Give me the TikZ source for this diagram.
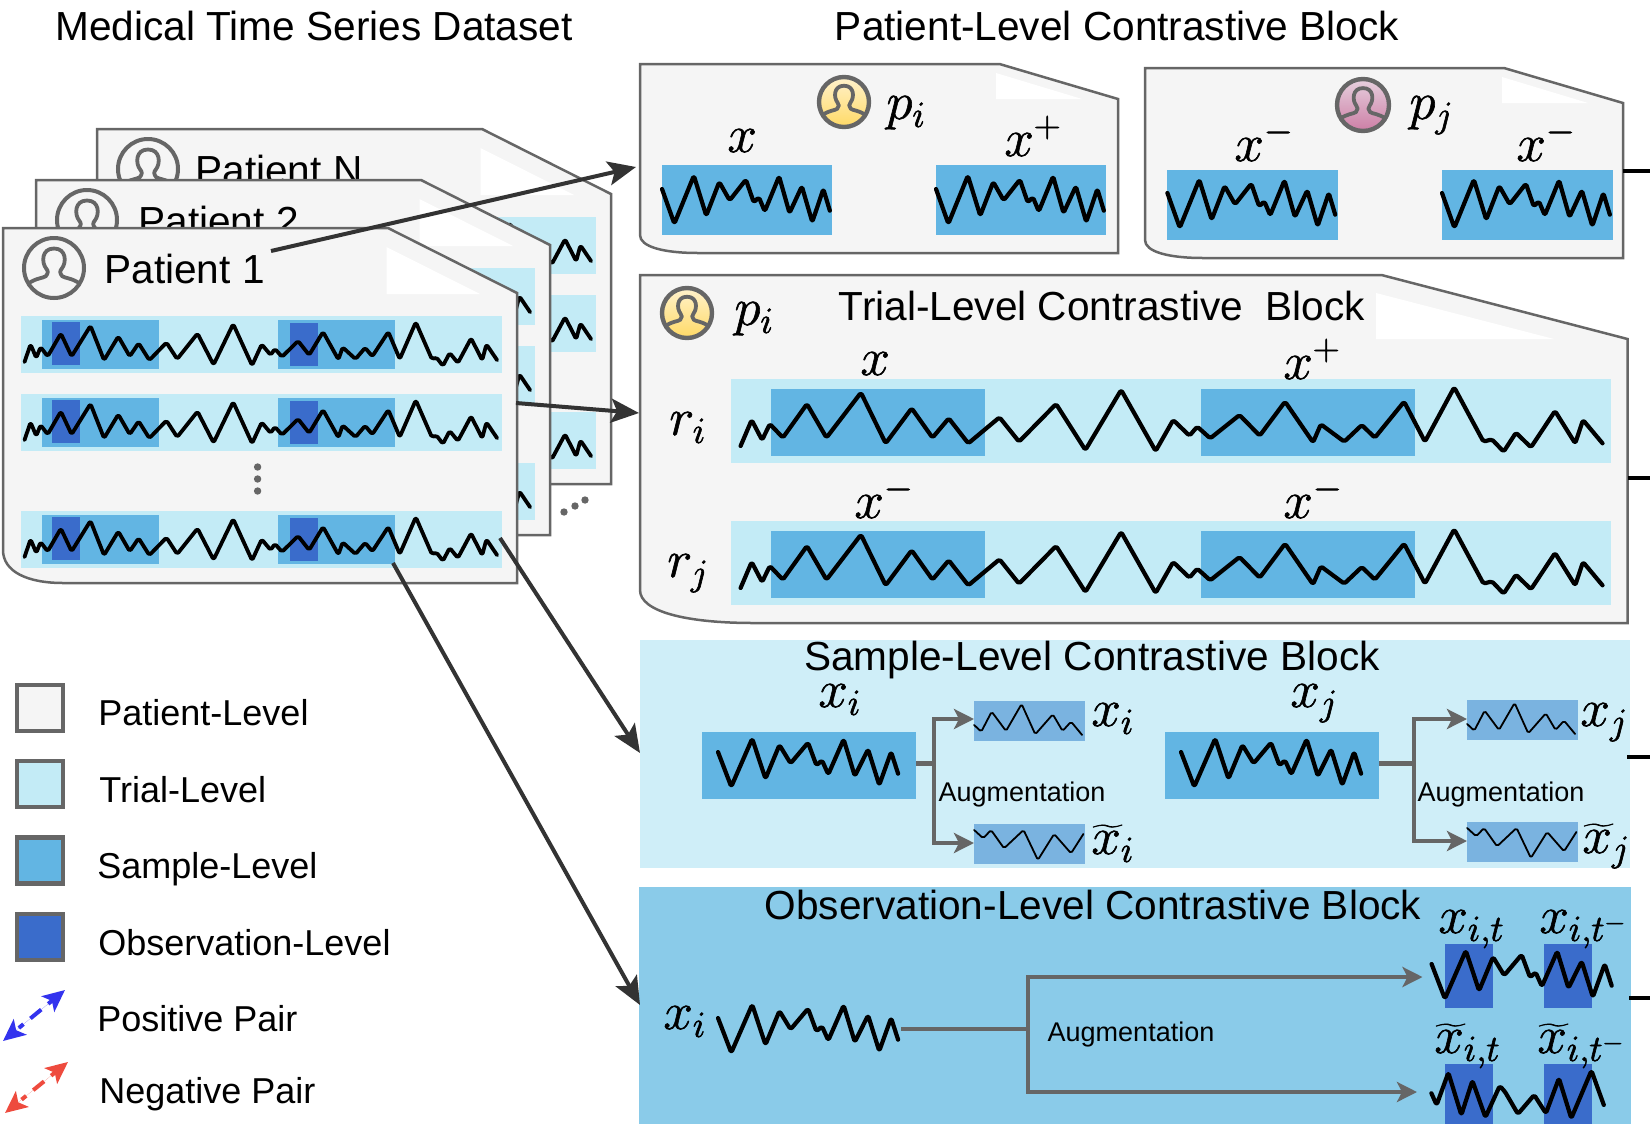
\RequirePackage{fix-cm}
\documentclass[tikz,border=0pt]{standalone}
\usepackage{fontspec}
\setmainfont{Liberation Sans}
\usetikzlibrary{arrows.meta}
\definecolor{cardfill}{HTML}{F5F5F5}
\definecolor{cardline}{HTML}{666666}
\definecolor{trialc}{HTML}{C3EBF6}
\definecolor{samplec}{HTML}{62B5E3}
\definecolor{obsc}{HTML}{3A6CCB}
\definecolor{sampleblock}{HTML}{CFEEF8}
\definecolor{obsblock}{HTML}{8ACBE9}
\definecolor{smallc}{HTML}{7AB3E0}
\definecolor{darkarrow}{HTML}{333333}
\definecolor{posc}{HTML}{3333EE}
\definecolor{negc}{HTML}{EE4B3E}
\definecolor{yellowtop}{HTML}{FFF2CC}
\definecolor{yellowbot}{HTML}{FFD966}
\definecolor{pinktop}{HTML}{E6D0DE}
\definecolor{pinkbot}{HTML}{CD7EA5}
\newcommand\longpts{(170,528) -- (187,450) -- (203,510) -- (215,462) -- (235,503) -- (272,402) -- (302,503) -- (355,368) -- (393,520) -- (433,415) -- (465,503) -- (490,445) -- (520,520) -- (568,442) -- (598,515) -- (655,402) -- (700,540) -- (755,360) -- (808,543) -- (835,450) -- (860,497) -- (872,470) -- (892,505) -- (937,435) -- (968,497) -- (1007,395) -- (1050,517) -- (1062,463) -- (1098,515) -- (1125,465) -- (1145,503) -- (1190,395) -- (1222,515) -- (1267,352) -- (1312,515) -- (1325,508) -- (1343,545) -- (1362,488) -- (1385,532) -- (1422,423) -- (1453,520) -- (1465,450) -- (1495,520)}
\newcommand\shortpts{(49,418) -- (68,522) -- (98,378) -- (117,498) -- (137,397) -- (153,452) -- (178,390) -- (190,458) -- (198,443) -- (207,485) -- (229,380) -- (245,490) -- (264,410) -- (280,517) -- (297,418) -- (307,483)}
\newcommand\smallup{(529,285) -- (540,305) -- (556,245) -- (578,303) -- (602,222) -- (623,313) -- (650,253) -- (665,303) -- (678,275) -- (695,315)}
\newcommand\smalllow{(529,600) -- (543,625) -- (555,600) -- (575,655) -- (605,600) -- (627,690) -- (652,612) -- (678,670) -- (697,612)}
\newcommand\obslow{(1232,1390) -- (1240,1425) -- (1258,1328) -- (1278,1455) -- (1295,1352) -- (1315,1462) -- (1337,1368) -- (1345,1385) -- (1365,1452) -- (1390,1395) -- (1408,1450) -- (1428,1345) -- (1447,1465) -- (1478,1322) -- (1497,1425)}
% path, start x, start y, place x, place y, xscale, yscale, line width
\newcommand\wavedraw[8]{\begin{scope}[shift={(#4,#5)},xscale=#6,yscale=#7,shift={(-#2,-#3)}]\draw[wave,line width=#8] #1;\end{scope}}
\newcommand\rowwave[2]{\wavedraw{\longpts}{170}{528}{#1}{#2}{.3567}{.226}{1.9pt}}
\newcommand\trialwave[2]{\wavedraw{\longpts}{170}{528}{#1}{#2}{.6505}{.3333}{2.1pt}}
\newcommand\shortwave[2]{\wavedraw{\shortpts}{49}{418}{#1}{#2}{.6505}{.3333}{2.1pt}}
\newcommand\bigwave[2]{\wavedraw{\shortpts}{49}{418}{#1}{#2}{.698}{.3333}{2.1pt}}
% left top foldx right foldy bottom curvex curvey
\newcommand\docshape[8]{\draw[doc] (#1,#2) -- (#3,#2) -- (#4,#5) -- (#4,#6) -- (#7,#6) .. controls ({#7-0.6*(#7-#1)},#6) and (#1,{#6-0.35*(#6-#8)}) .. (#1,#8) -- cycle;}
% centre x, y, radius, style
\newcommand\usericon[4]{\begin{scope}[shift={(#1,#2)},scale=#3]
\draw[#4] (0,0) circle (1);
\draw[iconline] (-.86,.52) .. controls (-.6,.33) and (-.35,.34) .. (-.27,.27) .. controls (-.2,.18) and (-.18,.1) .. (-.26,.02) .. controls (-.42,-.18) and (-.42,-.65) .. (0,-.65) .. controls (.42,-.65) and (.42,-.18) .. (.26,.02) .. controls (.18,.1) and (.2,.18) .. (.27,.27) .. controls (.35,.34) and (.6,.33) .. (.86,.52);
\end{scope}}
\newcommand\rowblock[1]{\begin{scope}[shift={(0,#1)}]
\fill[trialc] (21,316) rectangle (502,373);
\fill[samplec] (42,320) rectangle (159,369);
\fill[samplec] (278,320) rectangle (395,369);
\fill[obsc] (52,322) rectangle (80,365);
\fill[obsc] (290,323) rectangle (318,366);
\rowwave{24.5}{362}
\end{scope}}
% shift x, shift y, label, name, label x
\newcommand\patientcard[5]{\begin{scope}[shift={(#1,#2)}]
\docshape{3}{228}{388}{517}{293}{583}{63}{550}
\fill[white] (386.5,247) -- (386.5,294) -- (480,294) -- cycle;
\usericon{54}{268}{30}{icongray}
\node[cardtext,anchor=base west] (#4) at (#5,283) {#3};
\rowblock{0}\rowblock{78}\rowblock{195}
\end{scope}}
\newcommand\xsup[1]{x^{#1}}
\newcommand\mth[1]{\fontsize{26.5}{30}\selectfont\special{pdf:code 2 Tr 0.3 w}$#1$\special{pdf:code 0 Tr}}
\tikzset{
  x=0.5pt,y=-0.5pt,
  wave/.style={black,line join=round,line cap=round,rounded corners=0.9pt},
  doc/.style={fill=cardfill,draw=cardline,line width=1.25pt,line join=miter},
  iconline/.style={draw=cardline,line width=1.9pt,line join=round},
  icongray/.style={draw=cardline,line width=2pt},
  cardtext/.style={font=\fontsize{20.3}{24}\selectfont,inner sep=0pt},
  titletext/.style={font=\fontsize{20.3}{24}\selectfont,inner sep=0pt},
  legtext/.style={font=\fontsize{18}{22}\selectfont,inner sep=0pt,anchor=west},
  augtext/.style={font=\fontsize{13.5}{16}\selectfont,inner sep=0pt},
  mathl/.style={inner sep=0pt,anchor=base west},
  legbox/.style={draw=cardline,line width=2.4pt,minimum size=23pt,inner sep=0pt},
  branch/.style={draw=cardline,line width=2.2pt,-{Stealth[length=10pt,width=10pt,inset=2.5pt]}},
  branchplain/.style={draw=cardline,line width=2.2pt},
  bigarrow/.style={draw=darkarrow,line width=2pt,-{Stealth[length=14pt,width=12pt,inset=3pt]}},
  stub/.style={black,line width=2pt},
  pairarrow/.style={line width=2pt,{Stealth[length=11pt,width=10pt,inset=2.5pt]}-{Stealth[length=11pt,width=10pt,inset=2.5pt]},dash pattern=on 3pt off 4.5pt on 7pt off 4.5pt on 3pt off 99pt},
  yellowfill/.style={draw=cardline,line width=2.2pt,top color=yellowtop,bottom color=yellowbot},
  pinkfill/.style={draw=cardline,line width=2.2pt,top color=pinktop,bottom color=pinkbot},
}
\begin{document}
\begin{tikzpicture}
\useasboundingbox (0,0) rectangle (1650,1130);
% titles
\node[titletext] (tData) at (314,26) {Medical Time Series Dataset};
\node[titletext] (tPat) at (1117,26) {Patient-Level Contrastive Block};
% stacked cards
\patientcard{94}{-99}{Patient N}{cardN}{101}
\patientcard{33}{-48}{Patient 2}{card2}{105}
\patientcard{0}{0}{Patient 1}{card1}{104}
\fill[cardline] (257.6,467) circle (3.7) (257.6,479) circle (3.7) (257.6,491) circle (3.7);
\fill[cardline] (564,512) circle (3.7) (575,506) circle (3.7) (585,500) circle (3.7);
% patient-level block
\docshape{640}{64}{999.5}{1118}{99}{253}{698}{235}
\fill[white] (996,73) -- (996,99) -- (1082,99) -- cycle;
\docshape{1145}{68}{1504}{1623}{103}{258}{1203}{240}
\fill[white] (1502,77) -- (1502,103) -- (1588,103) -- cycle;
\fill[samplec] (662,165) rectangle (832,235);
\fill[samplec] (936,165) rectangle (1106,235);
\fill[samplec] (1167.4,170) rectangle (1338,240);
\fill[samplec] (1442,170) rectangle (1612.5,240);
\shortwave{662}{189}
\shortwave{936}{189}
\shortwave{1167.4}{193}
\shortwave{1442}{193}
\usericon{844}{102}{25}{yellowfill}
\usericon{1363}{105}{26}{pinkfill}
\node[mathl] (lpi) at (886,119) {\mth{p_i}};
\node[mathl] (lpj) at (1409,119) {\mth{p_j}};
\node[mathl] (lx) at (727,152) {\mth{x}};
\node[mathl] (lxp) at (1004,156) {\mth{\xsup{+}}};
\node[mathl] (lxm1) at (1234,161) {\mth{\xsup{-}}};
\node[mathl] (lxm2) at (1516,161) {\mth{\xsup{-}}};
% trial-level block
\docshape{640}{275}{1381.5}{1627.5}{339}{623}{753.6}{590}
\fill[white] (1376,293) -- (1376,339) -- (1554,339) -- cycle;
\fill[trialc] (731,379) rectangle (1611,463);
\fill[trialc] (731,521) rectangle (1611,605);
\fill[samplec] (771,389) rectangle (985,456);
\fill[samplec] (1201,389) rectangle (1415,456);
\fill[samplec] (771,531) rectangle (985,598);
\fill[samplec] (1201,531) rectangle (1415,598);
\trialwave{740.6}{446}
\trialwave{740.6}{588}
\usericon{687}{313}{25}{yellowfill}
\node[mathl] (tpi) at (734,325) {\mth{p_i}};
\node[titletext] (tTrial) at (1102,306) {Trial-Level Contrastive\ \ Block};
\node[mathl] (tx) at (860,375) {\mth{x}};
\node[mathl] (txp) at (1283,379) {\mth{\xsup{+}}};
\node[mathl] (txm1) at (854,518) {\mth{\xsup{-}}};
\node[mathl] (txm2) at (1283,518) {\mth{\xsup{-}}};
\node[mathl] (tri) at (669,435) {\mth{r_i}};
\node[mathl] (trj) at (667,577) {\mth{r_j}};
% sample-level block
\fill[sampleblock] (640,640) rectangle (1630,868);
\node[titletext] (tSample) at (1092,660) {Sample-Level Contrastive Block};
\fill[samplec] (702,732) rectangle (916,799);
\fill[samplec] (1165,732) rectangle (1379,799);
\bigwave{718}{752}
\bigwave{1181}{752}
\fill[smallc] (974,701) rectangle (1085,741);
\fill[smallc] (974,824) rectangle (1085,864);
\fill[smallc] (1467,700) rectangle (1578,740);
\fill[smallc] (1467,822) rectangle (1578,862);
\wavedraw{\smallup}{0}{0}{630}{630}{.6505}{.3333}{.9pt}
\wavedraw{\smalllow}{0}{0}{630}{630}{.6505}{.3333}{.9pt}
\wavedraw{\smallup}{0}{0}{1123}{629}{.6505}{.3333}{.9pt}
\wavedraw{\smalllow}{0}{0}{1123}{628}{.6505}{.3333}{.9pt}
\coordinate (sa) at (916,763.5);
\coordinate (sb) at (934,763.5);
\coordinate (sc) at (934,719);
\coordinate (sd) at (974,719);
\coordinate (se) at (934,843);
\coordinate (sf) at (974,843);
\draw[branchplain] (sa) -- (sb);
\draw[branch] (sb) -- (sc) -- (sd);
\draw[branch] (sb) -- (se) -- (sf);
\coordinate (ra) at (1379,763.5);
\coordinate (rb) at (1414,763.5);
\coordinate (rc) at (1414,719);
\coordinate (rd) at (1467,719);
\coordinate (re) at (1414,841);
\coordinate (rf) at (1467,841);
\draw[branchplain] (ra) -- (rb);
\draw[branch] (rb) -- (rc) -- (rd);
\draw[branch] (rb) -- (re) -- (rf);
\node[augtext] (aug1) at (1022,795) {Augmentation};
\node[augtext] (aug2) at (1501,795) {Augmentation};
\node[mathl] (sxi) at (818,707) {\mth{x_i}};
\node[mathl] (sxj) at (1290,707) {\mth{x_j}};
\node[mathl] (sxi2) at (1091,726) {\mth{x_i}};
\node[mathl] (sxt) at (1091,854) {\mth{\widetilde{x}_i}};
\node[mathl] (sxj2) at (1580,726) {\mth{x_j}};
\node[mathl] (sxtj) at (1582,853) {\mth{\widetilde{x}_j}};
% observation-level block
\fill[obsblock] (639,887) rectangle (1631,1124);
\node[titletext] (tObs) at (1093,905) {Observation-Level Contrastive Block};
\fill[obsc] (1445,944) rectangle (1493,1008);
\fill[obsc] (1544,944) rectangle (1592,1008);
\fill[obsc] (1445,1064) rectangle (1493,1124);
\fill[obsc] (1544,1064) rectangle (1592,1124);
\bigwave{718}{1018}
\bigwave{1431.6}{964}
\wavedraw{\obslow}{0}{0}{630}{630}{.6505}{.3333}{2.1pt}
\coordinate (oa) at (901,1029);
\coordinate (ob) at (1028,1029);
\coordinate (oc) at (1028,977);
\coordinate (od) at (1422.5,977);
\coordinate (oe) at (1028,1092);
\coordinate (of) at (1417,1092);
\draw[branchplain] (oa) -- (ob);
\draw[branch] (ob) -- (oc) -- (od);
\draw[branch] (ob) -- (oe) -- (of);
\node[augtext] (aug3) at (1131,1035) {Augmentation};
\node[mathl] (oxi) at (663,1029) {\mth{x_i}};
\node[mathl] (oxit) at (1438,933) {\mth{x_{i,t}}};
\node[mathl] (oxitm) at (1539,933) {\mth{x_{i,t^-}}};
\node[mathl] (otxit) at (1434,1053) {\mth{\widetilde{x}_{i,t}}};
\node[mathl] (otxitm) at (1537,1053) {\mth{\widetilde{x}_{i,t^-}}};
% output stubs
\coordinate (st1a) at (1623,171); \coordinate (st1b) at (1650,171);
\coordinate (st2a) at (1628,478); \coordinate (st2b) at (1650,478);
\coordinate (st3a) at (1627,757); \coordinate (st3b) at (1650,757);
\coordinate (st4a) at (1629,998); \coordinate (st4b) at (1650,998);
\draw[stub] (st1a) -- (st1b);
\draw[stub] (st2a) -- (st2b);
\draw[stub] (st3a) -- (st3b);
\draw[stub] (st4a) -- (st4b);
% big arrows
\coordinate (aA) at (271,251); \coordinate (bA) at (636,167);
\coordinate (aB) at (516,403); \coordinate (bB) at (639,413);
\coordinate (aC) at (500,538); \coordinate (bC) at (640,753);
\coordinate (aD) at (393,563); \coordinate (bD) at (640,1005);
\draw[bigarrow] (aA) -- (bA);
\draw[bigarrow] (aB) -- (bB);
\draw[bigarrow] (aC) -- (bC);
\draw[bigarrow] (aD) -- (bD);
% legend
\node[legbox,fill=cardfill] (lb1) at (40,708) {};
\node[legbox,fill=trialc] (lb2) at (40,784) {};
\node[legbox,fill=samplec] (lb3) at (40,860.5) {};
\node[legbox,fill=obsc] (lb4) at (40,937) {};
\node[legtext] (lt1) at (98,713) {Patient-Level};
\node[legtext] (lt2) at (99,790) {Trial-Level};
\node[legtext] (lt3) at (97,869) {Sample-Level};
\node[legtext] (lt4) at (98,943) {Observation-Level};
\node[legtext] (lt5) at (97,1019) {Positive Pair};
\node[legtext] (lt6) at (99,1094) {Negative Pair};
\coordinate (pa) at (65,990); \coordinate (pb) at (3,1041);
\coordinate (na) at (68,1062); \coordinate (nb) at (5,1113);
\draw[pairarrow,draw=posc,fill=posc] (pa) -- (pb);
\draw[pairarrow,draw=negc,fill=negc] (na) -- (nb);
\end{tikzpicture}
\end{document}
